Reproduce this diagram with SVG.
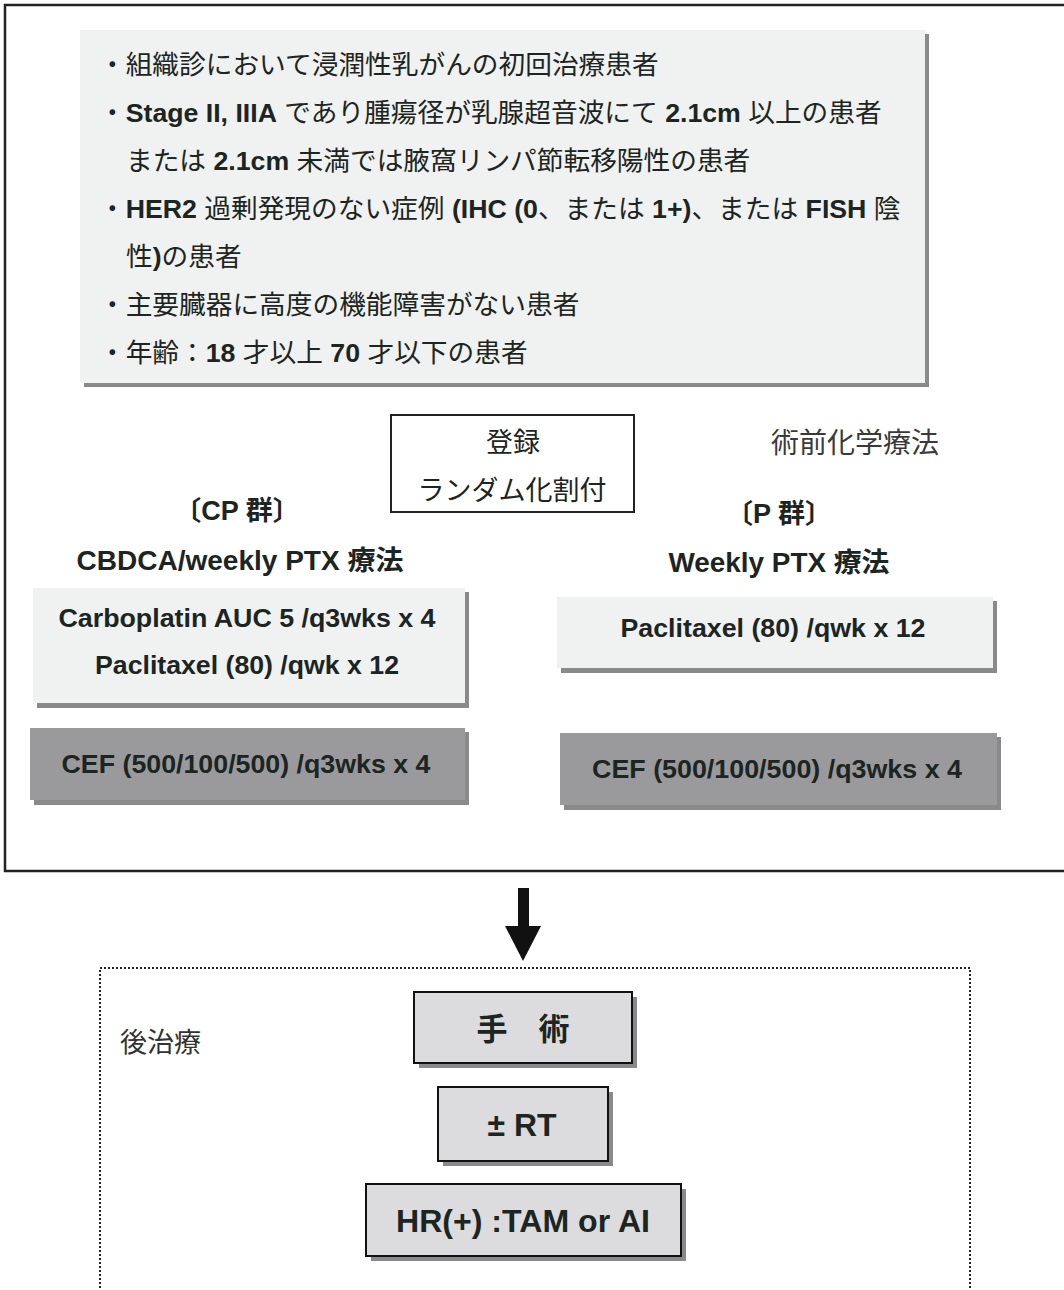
<svg xmlns="http://www.w3.org/2000/svg" width="1064" height="1290" viewBox="0 0 1064 1290">
<defs>
<style>
.jp{font-family:"Liberation Sans","Noto Sans CJK JP",sans-serif;fill:#1c2522;}
.b{font-weight:bold;}
.crit{font-size:26.7px;}
.lbl{font-size:27px;}
.box{font-family:"Liberation Sans","Noto Sans CJK JP",sans-serif;font-weight:bold;font-size:26px;fill:#1c2522;}
.light{fill:#f0f1f1;}
.dark{fill:#9a9a9c;}
.shadow{fill:#8a8a8a;}
.post{fill:#dcdcde;stroke:#111;stroke-width:2;}
</style>
</defs>
<rect width="1064" height="1290" fill="#ffffff"/>
<g id="outer-frame">
<rect x="5" y="5" width="1070" height="866" fill="none" stroke="#222" stroke-width="2.5"/>
</g>
<g id="criteria">
<rect x="84" y="34" width="845" height="353" class="shadow"/>
<rect x="80" y="30" width="845" height="353" class="light"/>
<g class="jp crit">
<text x="99" y="74">・組織診において浸潤性乳がんの初回治療患者</text>
<text x="99" y="122">・<tspan class="b">Stage II, IIIA</tspan> であり腫瘍径が乳腺超音波にて <tspan class="b">2.1cm</tspan> 以上の患者</text>
<text x="126" y="170">または <tspan class="b">2.1cm</tspan> 未満では腋窩リンパ節転移陽性の患者</text>
<text x="99" y="218">・<tspan class="b">HER2</tspan> 過剰発現のない症例 <tspan class="b">(IHC (0</tspan>、または <tspan class="b">1+)</tspan>、または <tspan class="b">FISH</tspan> 陰</text>
<text x="126" y="266">性<tspan class="b">)</tspan>の患者</text>
<text x="99" y="314">・主要臓器に高度の機能障害がない患者</text>
<text x="99" y="362">・年齢：<tspan class="b">18</tspan> 才以上 <tspan class="b">70</tspan> 才以下の患者</text>
</g>
</g>
<g id="registration">
<rect x="391" y="415" width="243" height="97" fill="#fff" stroke="#222" stroke-width="2"/>
<text x="513" y="452" class="jp lbl" text-anchor="middle">登録</text>
<text x="512" y="500" class="jp lbl" text-anchor="middle">ランダム化割付</text>
</g>
<g id="neoadjuvant-label">
<text x="771" y="453" class="jp" font-size="28" style="fill:#3a3a3a">術前化学療法</text>
</g>
<g id="cp-arm-title">
<text x="237" y="520" class="jp lbl b" text-anchor="middle">〔CP 群〕</text>
<text x="240" y="570" class="jp lbl b" text-anchor="middle" textLength="327" lengthAdjust="spacingAndGlyphs">CBDCA/weekly PTX 療法</text>
</g>
<g id="p-arm-title">
<text x="779" y="523" class="jp lbl b" text-anchor="middle">〔P 群〕</text>
<text x="779" y="572" class="jp lbl b" text-anchor="middle" textLength="221" lengthAdjust="spacingAndGlyphs">Weekly PTX 療法</text>
</g>
<g id="cp-regimen">
<rect x="37" y="592" width="432" height="116" class="shadow"/>
<rect x="33" y="588" width="432" height="115" class="light"/>
<text x="247" y="627" class="box" text-anchor="middle" textLength="377" lengthAdjust="spacingAndGlyphs">Carboplatin AUC 5 /q3wks x 4</text>
<text x="247" y="674" class="box" text-anchor="middle" textLength="304" lengthAdjust="spacingAndGlyphs">Paclitaxel (80) /qwk x 12</text>
</g>
<g id="cp-cef">
<rect x="34" y="732" width="435" height="73" class="shadow"/>
<rect x="30" y="728" width="435" height="72" class="dark"/>
<text x="246" y="773" class="box" text-anchor="middle" textLength="369" lengthAdjust="spacingAndGlyphs">CEF (500/100/500) /q3wks x 4</text>
</g>
<g id="p-regimen">
<rect x="561" y="601" width="436" height="72" class="shadow"/>
<rect x="557" y="597" width="436" height="71" class="light"/>
<text x="773" y="637" class="box" text-anchor="middle" textLength="305" lengthAdjust="spacingAndGlyphs">Paclitaxel (80) /qwk x 12</text>
</g>
<g id="p-cef">
<rect x="564" y="737" width="437" height="73" class="shadow"/>
<rect x="560" y="733" width="437" height="72" class="dark"/>
<text x="777" y="778" class="box" text-anchor="middle" textLength="370" lengthAdjust="spacingAndGlyphs">CEF (500/100/500) /q3wks x 4</text>
</g>
<g id="connectors">
<rect x="518" y="888" width="11" height="40" fill="#111"/>
<polygon points="505,926 541,926 523,961" fill="#111"/>
</g>
<g id="post-frame">
<rect x="100" y="968" width="870" height="340" fill="none" stroke="#222" stroke-width="2" stroke-dasharray="2,2"/>
<text x="120" y="1052" class="jp" font-size="27" style="fill:#333">後治療</text>
</g>
<g id="surgery">
<rect x="419" y="997" width="218" height="71" class="shadow"/>
<rect x="414" y="992" width="218" height="71" class="post"/>
<text x="523" y="1040" class="jp b" font-size="31" text-anchor="middle">手　術</text>
</g>
<g id="rt">
<rect x="443" y="1092" width="170" height="74" class="shadow"/>
<rect x="438" y="1087" width="170" height="74" class="post"/>
<text x="522" y="1136" class="jp b" font-size="31" text-anchor="middle" textLength="69" lengthAdjust="spacingAndGlyphs">± RT</text>
</g>
<g id="hormone">
<rect x="371" y="1189" width="315" height="72" class="shadow"/>
<rect x="366" y="1184" width="315" height="72" class="post"/>
<text x="523" y="1232" class="jp b" font-size="31" text-anchor="middle" textLength="254" lengthAdjust="spacingAndGlyphs">HR(+) :TAM or AI</text>
</g>
</svg>
